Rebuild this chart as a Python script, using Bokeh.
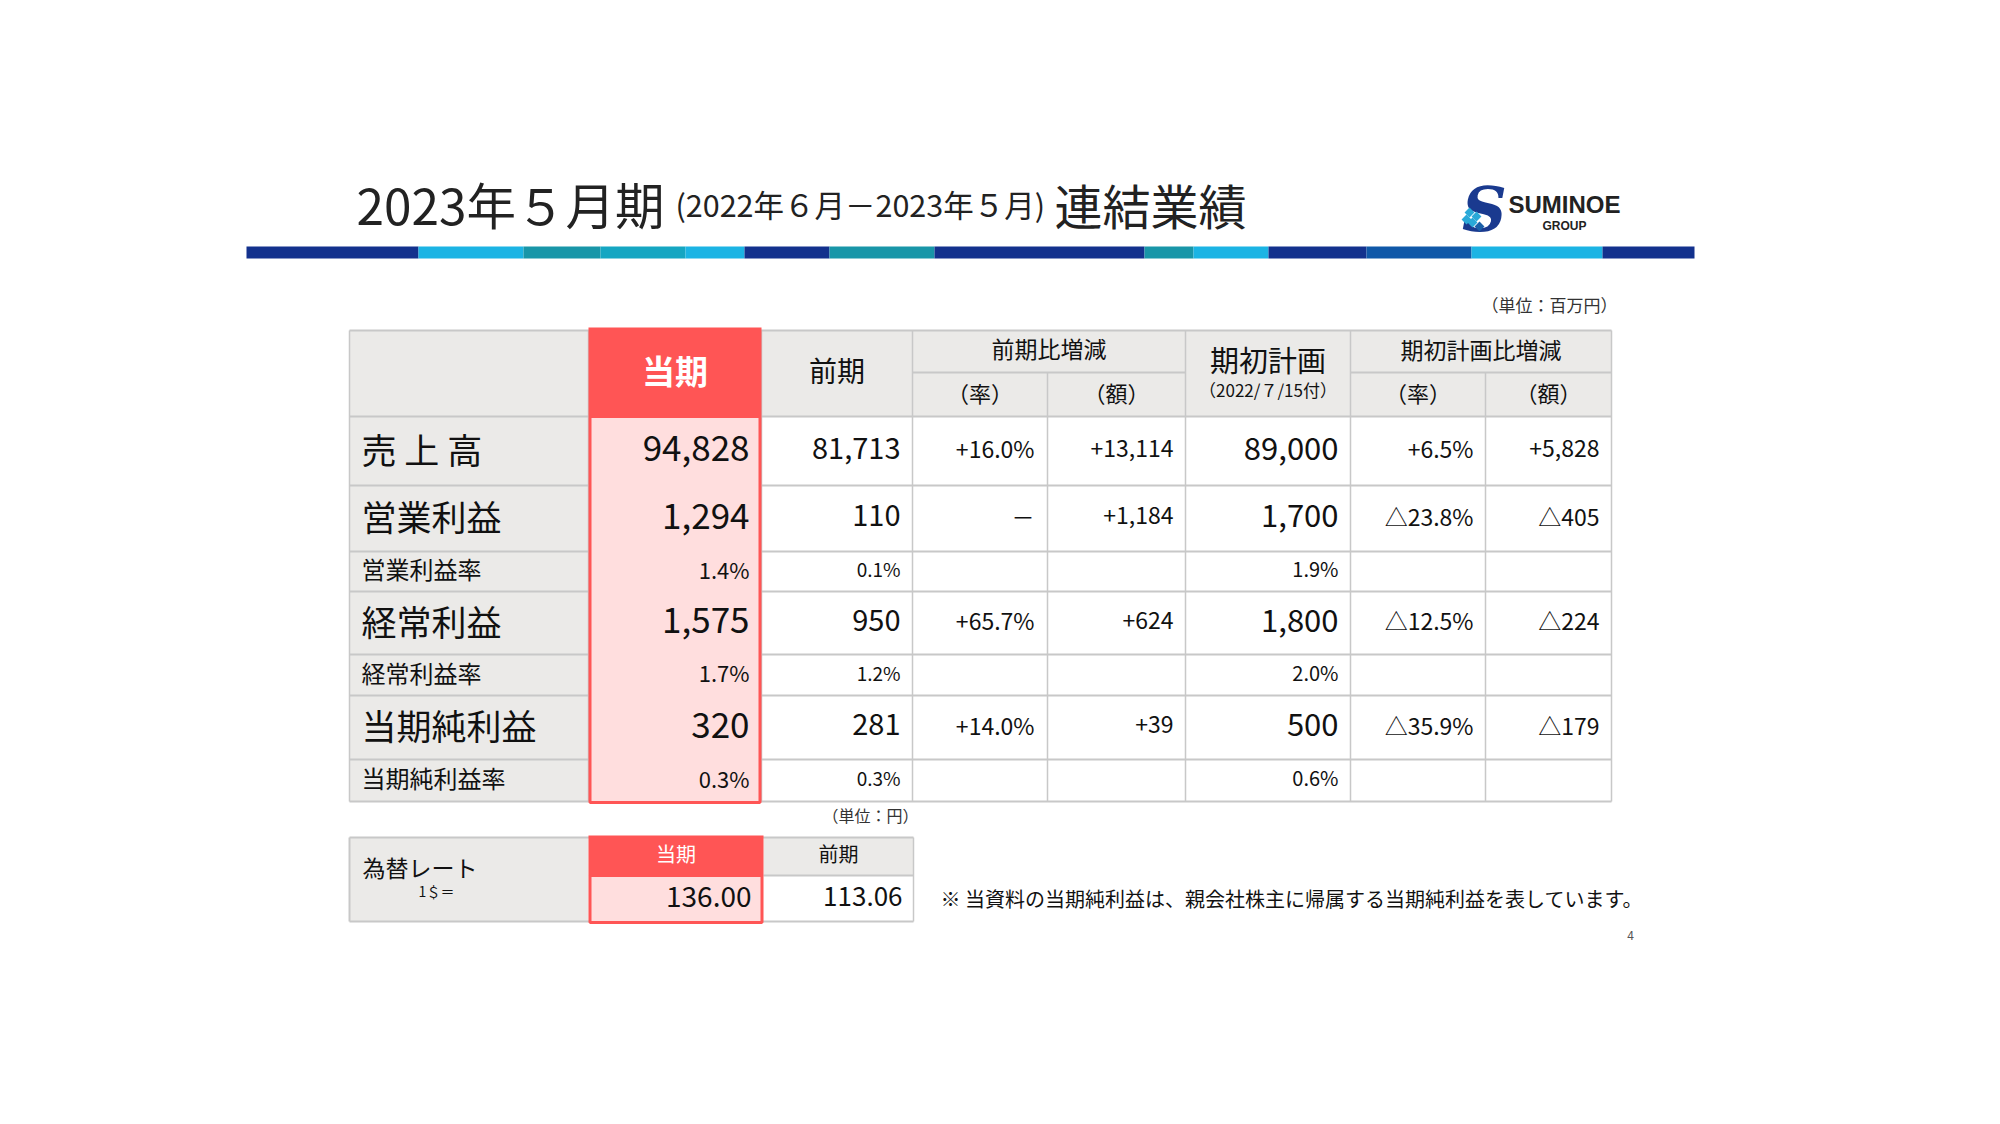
from bokeh.plotting import figure
from bokeh.models import ColumnDataSource, Range1d
from bokeh.core.properties import value
from bokeh.embed import file_html
from bokeh.resources import INLINE

# ---------------- data ----------------
row_labels = ["売 上 高", "営業利益", "営業利益率", "経常利益", "経常利益率", "当期純利益", "当期純利益率"]
row_is_ratio = [False, False, True, False, True, False, True]
current_values = [94828, 1294, 1.4, 1575, 1.7, 320, 0.3]
previous_values = [81713, 110, 0.1, 950, 1.2, 281, 0.3]
yoy_rate = [16.0, "－", None, 65.7, None, 14.0, None]
yoy_amount = [13114, 1184, None, 624, None, 39, None]
plan_values = [89000, 1700, 1.9, 1800, 2.0, 500, 0.6]
plan_rate = [6.5, -23.8, None, -12.5, None, -35.9, None]
plan_amount = [5828, -405, None, -224, None, -179, None]
fx_headers = ["当期", "前期"]
fx_rates = [136.00, 113.06]

title_main = "2023年５月期"
title_period = "(2022年６月－2023年５月)"
title_tail = "連結業績"
note_text = "※ 当資料の当期純利益は、親会社株主に帰属する当期純利益を表しています。"

# ---------------- styles / layout ----------------
F = "Noto Sans CJK JP"
GRAY = "#EBEAE8"
BORDER = "#C8C8C8"
RED = "#FF5555"
PINK = "#FFDEDE"
INK = "#111111"
DY = -3  # optical correction for middle-baseline CJK text

p = figure(width=1984, height=1108, x_range=Range1d(0, 1984), y_range=Range1d(1108, 0),
           output_backend="svg", toolbar_location=None, min_border=0)
p.axis.visible = False
p.grid.visible = False
p.outline_line_color = None
p.background_fill_color = "white"
p.border_fill_color = "white"


def txt(xs, ys, texts, size, align="left", baseline="middle", color=INK, style="normal", font=F):
    if baseline == "middle":
        ys = [y + DY for y in ys]
    src = ColumnDataSource(dict(x=xs, y=ys, t=texts))
    p.text(x="x", y="y", text="t", source=src, text_font=value(font),
           text_font_size=f"{size}px", text_align=align, text_baseline=baseline,
           text_color=color, text_font_style=style)


def fmt_amount(v):
    return f"{v:,}"


def fmt_ratio(v):
    return f"{v:.1f}%"


def fmt_change_rate(v):
    if v is None:
        return ""
    if isinstance(v, str):
        return v
    return f"+{v:.1f}%" if v >= 0 else f"△{abs(v):.1f}%"


def fmt_change_amount(v):
    if v is None:
        return ""
    return f"+{v:,}" if v >= 0 else f"△{abs(v):,}"


# ---------------- title & stripe ----------------
txt([356], [203], [title_main], 49.5, baseline="alphabetic", color="#222222")
txt([675], [203], [title_period], 30.5, baseline="alphabetic", color="#222222")
txt([1054], [203], [title_tail], 48, baseline="alphabetic", color="#222222")

stripe_edges = [246, 418, 523, 600, 685, 744, 829, 934, 1144, 1193, 1268, 1366, 1471, 1602, 1694]
NAVY, CYAN, TEAL, TCYAN, MBLUE = "#13318D", "#1BB4E4", "#1896A8", "#15A6C2", "#0F58A8"
stripe_colors = [NAVY, CYAN, TEAL, TCYAN, CYAN, NAVY, TEAL, NAVY, TEAL, CYAN, NAVY, MBLUE, CYAN, NAVY]
p.quad(left=stripe_edges[:-1], right=stripe_edges[1:], top=[246] * 14, bottom=[258] * 14,
       fill_color=stripe_colors, line_color=None)

# logo
txt([1484], [212], ["S"], 62, align="center", color="#1A3A8F", style="bold italic", font="DejaVu Serif")
p.scatter(x=[1469, 1476, 1472, 1479, 1466], y=[212, 216, 222, 226, 219], size=7, marker="square",
          angle=0.785, fill_color=["#2AA9D8", "#2AA9D8", "#2AA9D8", "#1A5FA8", "#2AA9D8"], line_color=None)
txt([1508], [207], ["SUMINOE"], 24, color="#222222", style="bold", font="Liberation Sans")
txt([1564], [228], ["GROUP"], 12, align="center", color="#222222", style="bold", font="Liberation Sans")

# ---------------- main table ----------------
X = [349, 588, 761, 912, 1047, 1185, 1350, 1485, 1611]
Y = [330, 416, 485, 551, 591, 654, 695, 759, 801]
YSUB = 372

txt([1617], [307], ["（単位：百万円）"], 17, align="right", color="#333333")

# fills
p.quad(left=[X[0]], right=[X[-1]], top=[Y[0]], bottom=[Y[1]], fill_color=GRAY, line_color=None)
p.quad(left=[X[0]], right=[X[1]], top=[Y[1]], bottom=[Y[-1]], fill_color=GRAY, line_color=None)

# grid lines
hx0, hx1, hy = [], [], []
for y in Y:
    hx0.append(X[0]); hx1.append(X[-1]); hy.append(y)
p.segment(x0=hx0, y0=hy, x1=hx1, y1=hy, line_color=BORDER, line_width=2)
p.segment(x0=[X[3], X[6]], y0=[YSUB, YSUB], x1=[X[5], X[8]], y1=[YSUB, YSUB], line_color=BORDER, line_width=2)
vx = [X[0], X[1], X[2], X[3], X[5], X[6], X[8]]
p.segment(x0=vx, y0=[Y[0]] * len(vx), x1=vx, y1=[Y[-1]] * len(vx), line_color=BORDER, line_width=1.5)
p.segment(x0=[X[4], X[7]], y0=[YSUB, YSUB], x1=[X[4], X[7]], y1=[Y[-1], Y[-1]], line_color=BORDER, line_width=1.5)

# current period highlight
p.quad(left=[X[1]], right=[X[2]], top=[327], bottom=[Y[1]], fill_color=RED, line_color=None)
p.quad(left=[X[1] + 1.5], right=[X[2] - 1.5], top=[Y[1]], bottom=[Y[-1] + 1], fill_color=PINK,
       line_color=RED, line_width=3)

# header texts
txt([(X[1] + X[2]) / 2], [372], ["当期"], 33, align="center", color="white", style="bold")
txt([(X[2] + X[3]) / 2], [372], ["前期"], 28, align="center")
txt([(X[3] + X[5]) / 2], [350], ["前期比増減"], 23, align="center")
txt([(X[3] + X[4]) / 2, (X[4] + X[5]) / 2], [394, 394], ["（率）", "（額）"], 22, align="center")
txt([(X[5] + X[6]) / 2], [361], ["期初計画"], 29, align="center")
txt([(X[5] + X[6]) / 2], [392], ["（2022/７/15付）"], 17, align="center")
txt([(X[6] + X[8]) / 2], [351], ["期初計画比増減"], 23, align="center")
txt([(X[6] + X[7]) / 2, (X[7] + X[8]) / 2], [394, 394], ["（率）", "（額）"], 22, align="center")

# body
row_mid = [(Y[i + 1] + Y[i + 2]) / 2 for i in range(len(row_labels))]
big = [i for i, r in enumerate(row_is_ratio) if not r]
small = [i for i, r in enumerate(row_is_ratio) if r]

txt([361] * len(big), [row_mid[i] for i in big], [row_labels[i] for i in big], 35)
txt([361] * len(small), [row_mid[i] for i in small], [row_labels[i] for i in small], 24)


def col_text(vals, right, size_big, size_small, kind):
    tb, yb, ts, ys = [], [], [], []
    for i, v in enumerate(vals):
        if kind == "level":
            s = fmt_ratio(v) if row_is_ratio[i] else fmt_amount(v)
        elif kind == "rate":
            s = fmt_change_rate(v)
        else:
            s = fmt_change_amount(v)
        if row_is_ratio[i]:
            ts.append(s); ys.append(row_mid[i])
        else:
            tb.append(s); yb.append(row_mid[i])
    txt([right] * len(tb), yb, tb, size_big, align="right")
    if size_small:
        txt([right] * len(ts), ys, ts, size_small, align="right")


col_text(current_values, 749, 35, 22, "level")
col_text(previous_values, 900, 29, 19, "level")
col_text(yoy_rate, 1034, 23, None, "rate")
col_text(yoy_amount, 1173, 23, None, "amount")
col_text(plan_values, 1338, 31, 20, "level")
col_text(plan_rate, 1473, 23, None, "rate")
col_text(plan_amount, 1599, 23, None, "amount")

# ---------------- FX table ----------------
X2 = [349, 588, 763, 913]
Y2 = [837, 875, 921]
txt([918], [817], ["（単位：円）"], 16, align="right", color="#333333")
p.quad(left=[X2[0], X2[2]], right=[X2[1], X2[3]], top=[Y2[0], Y2[0]], bottom=[Y2[2], Y2[1]],
       fill_color=GRAY, line_color=None)
p.segment(x0=[X2[0], X2[0], X2[2], X2[0]], y0=[Y2[0], Y2[2], Y2[1], Y2[0]],
          x1=[X2[3], X2[3], X2[3], X2[0]], y1=[Y2[0], Y2[2], Y2[1], Y2[2]], line_color=BORDER, line_width=2)
p.segment(x0=[X2[3]], y0=[Y2[0]], x1=[X2[3]], y1=[Y2[2]], line_color=BORDER, line_width=1.5)
p.quad(left=[X2[1]], right=[X2[2]], top=[835], bottom=[Y2[1]], fill_color=RED, line_color=None)
p.quad(left=[X2[1] + 1.5], right=[X2[2] - 1.5], top=[Y2[1]], bottom=[Y2[2] + 1], fill_color=PINK,
       line_color=RED, line_width=3)
txt([(X2[1] + X2[2]) / 2], [856], [fx_headers[0]], 20, align="center", color="white")
txt([(X2[2] + X2[3]) / 2], [856], [fx_headers[1]], 20, align="center")
txt([362], [869], ["為替レート"], 23)
txt([436], [893], ["1＄＝"], 14, align="center")
txt([751], [899], [f"{fx_rates[0]:.2f}"], 28, align="right")
txt([902], [899], [f"{fx_rates[1]:.2f}"], 26, align="right")

txt([940], [901], [note_text], 20)
txt([1630], [938], ["4"], 12, align="center", color="#555555")

open("out.html", "w").write(file_html(p, INLINE))
